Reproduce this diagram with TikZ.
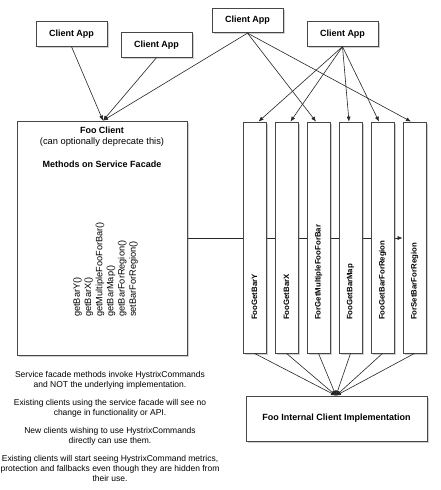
\documentclass[tikz,border=0pt]{standalone}
\usepackage{fontspec}
\setmainfont{Liberation Sans}
\usetikzlibrary{shadows,arrows.meta,backgrounds}
\begin{document}
\begin{tikzpicture}[x=1pt,y=-1pt,
  box/.style={draw=black!72, fill=white, line width=0.8pt, inner sep=0pt,
    drop shadow={shadow xshift=1.6pt, shadow yshift=-1.6pt, opacity=0.3, fill=black!60}},
  clientbox/.style={box, minimum width=71pt, minimum height=24.5pt, font=\bfseries\fontsize{9}{11}\selectfont},
  vbox/.style={box, minimum width=23pt, minimum height=231pt},
  vlabel/.style={rotate=90, anchor=west, inner sep=0pt, font=\bfseries\fontsize{7.8}{9}\selectfont},
  arr/.style={-{Latex[length=5pt,width=4pt]}, line width=0.6pt, draw=black!85},
  boldtxt/.style={inner sep=0pt, font=\bfseries\fontsize{9}{11}\selectfont},
  plaintxt/.style={inner sep=0pt, font=\fontsize{9.3}{11}\selectfont},
]
\useasboundingbox (0,0) rectangle (441,490);
\begin{pgfonlayer}{background}
  \fill[white] (0,0) rectangle (441,490);
\end{pgfonlayer}

% client apps
\node[clientbox] (c1) at (71.5,34) {Client App};
\node[clientbox] (c2) at (156.5,45) {Client App};
\node[clientbox] (c3) at (247.5,20.5) {Client App};
\node[clientbox] (c4) at (342.5,34) {Client App};

% Foo client
\node[box, minimum width=170pt, minimum height=234pt] (fc) at (102,238) {};
\node[boldtxt] (fctitle) at (102,130) {Foo Client};
\node[plaintxt] (fcsub) at (102,142) {(can optionally deprecate this)};
\node[boldtxt] (fcmeth) at (102,164) {Methods on Service Facade};
\node[rotate=90, anchor=north west, align=left, inner sep=0pt,
      font=\fontsize{9.2}{11.2}\selectfont] (methods) at (73,317)
  {getBarY()\\getBarX()\\getMultipleFooForBar()\\getBarMap()\\getBarForRegion()\\setBarForRegion()};

% vertical command boxes
\node[vbox] (v1) at (254.5,237.5) {};
\node[vbox] (v2) at (286.5,237.5) {};
\node[vbox] (v3) at (318.5,237.5) {};
\node[vbox] (v4) at (350.5,237.5) {};
\node[vbox] (v5) at (382.5,237.5) {};
\node[vbox] (v6) at (414.5,237.5) {};
\node[vlabel] (l1) at (254.5,320) {FooGetBarY};
\node[vlabel] (l2) at (286.5,320) {FooGetBarX};
\node[vlabel] (l3) at (318.5,320) {ForGetMultipleFooForBar};
\node[vlabel] (l4) at (350.5,320) {FooGetBarMap};
\node[vlabel] (l5) at (382.5,320) {FooGetBarForRegion};
\node[vlabel] (l6) at (414.5,320) {ForSetBarForRegion};

% internal implementation
\node[box, minimum width=181pt, minimum height=45pt, font=\bfseries\fontsize{9}{11}\selectfont] (ib) at (336.5,418.5) {Foo Internal Client Implementation};

% notes
\node[anchor=north, align=center, inner sep=0pt, font=\fontsize{8.5}{10}\selectfont] (notes) at (110,371.5)
  {Service facade methods invoke HystrixCommands\\and NOT the underlying implementation.\\[8pt]
   Existing clients using the service facade will see no\\change in functionality or API.\\[8pt]
   New clients wishing to use HystrixCommands\\directly can use them.\\[8pt]
   Existing clients will start seeing HystrixCommand metrics,\\protection and fallbacks even though they are hidden from\\their use.};

% connectors
\coordinate (fctop) at ([xshift=1pt]fc.north);
\draw[arr] (c1.south) -- (fctop);
\draw[arr] (c2.south) -- (fctop);
\draw[arr] (c3.south) -- (fctop);
\draw[arr] (c3.south) -- ([xshift=-2.5pt]v3.north);
\draw[arr] (c3.south) -- ([xshift=-3.5pt]v6.north);
\draw[arr] (c4.south) -- ([xshift=4pt]v1.north);
\draw[arr] (c4.south) -- ([xshift=4pt]v2.north);
\draw[arr] (c4.south) -- ([xshift=-1.5pt]v4.north);
\draw[arr] (c4.south) -- ([xshift=-3.5pt]v5.north);

\coordinate (ibtop) at ([xshift=-0.5pt]ib.north);
\foreach \i in {1,...,6} {\draw[arr] (v\i.south) -- (ibtop);}

\begin{pgfonlayer}{background}
  \draw[arr] (fc.east) -- (fc.east -| v6.west);
\end{pgfonlayer}
\end{tikzpicture}
\end{document}
